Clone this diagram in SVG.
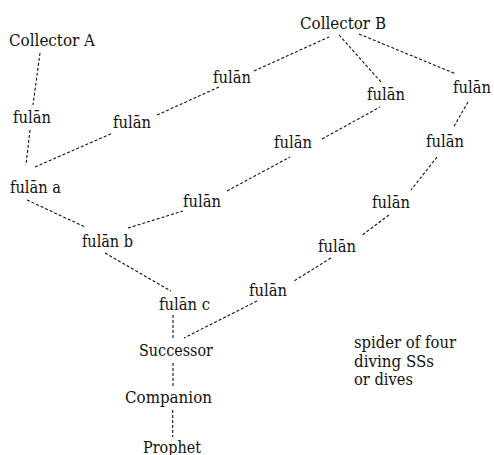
<svg xmlns="http://www.w3.org/2000/svg" width="494" height="455" viewBox="0 0 494 455">
  <style>
    .lbl { font-family: "DejaVu Serif", serif; font-size: 16.5px; fill: #111; }
    .link { stroke: #111; stroke-width: 1.1; stroke-dasharray: 3 2; fill: none; }
  </style>
  <rect width="494" height="455" fill="#fff"/>

  <g id="connectors">
    <line class="link" x1="40" y1="53" x2="33" y2="105"/>
    <line class="link" x1="30" y1="130" x2="26" y2="165"/>
    <line class="link" x1="35" y1="167" x2="113" y2="133"/>
    <line class="link" x1="157" y1="115" x2="219" y2="87"/>
    <line class="link" x1="254" y1="71" x2="329" y2="37"/>
    <line class="link" x1="27" y1="200" x2="85" y2="227"/>
    <line class="link" x1="128" y1="228" x2="183" y2="211"/>
    <line class="link" x1="227" y1="191" x2="290" y2="157"/>
    <line class="link" x1="322" y1="139" x2="380" y2="107"/>
    <line class="link" x1="339" y1="35" x2="381" y2="82"/>
    <line class="link" x1="359" y1="34" x2="456" y2="74"/>
    <line class="link" x1="468" y1="102" x2="453" y2="128"/>
    <line class="link" x1="437" y1="157" x2="411" y2="190"/>
    <line class="link" x1="389" y1="215" x2="361" y2="236"/>
    <line class="link" x1="331" y1="258" x2="294" y2="281"/>
    <line class="link" x1="257" y1="301" x2="184" y2="338"/>
    <line class="link" x1="105" y1="253" x2="171" y2="291"/>
    <line class="link" x1="173" y1="315" x2="173" y2="338"/>
    <line class="link" x1="173" y1="363" x2="173" y2="386"/>
    <line class="link" x1="172.7" y1="410" x2="172.7" y2="437"/>
  </g>

  <g id="collector-a"><text class="lbl" x="9" y="46" textLength="86" lengthAdjust="spacingAndGlyphs">Collector A</text></g>
  <g id="collector-b"><text class="lbl" x="300" y="29" textLength="86" lengthAdjust="spacingAndGlyphs">Collector B</text></g>
  <g id="a1"><text class="lbl" x="13" y="123" textLength="38" lengthAdjust="spacingAndGlyphs">fulān</text></g>
  <g id="a2"><text class="lbl" x="113" y="128" textLength="38" lengthAdjust="spacingAndGlyphs">fulān</text></g>
  <g id="a3"><text class="lbl" x="213" y="83" textLength="38" lengthAdjust="spacingAndGlyphs">fulān</text></g>
  <g id="fulan-a"><text class="lbl" x="10" y="193" textLength="51" lengthAdjust="spacingAndGlyphs">fulān a</text></g>
  <g id="b1"><text class="lbl" x="183" y="207" textLength="38" lengthAdjust="spacingAndGlyphs">fulān</text></g>
  <g id="b2"><text class="lbl" x="274" y="148" textLength="38" lengthAdjust="spacingAndGlyphs">fulān</text></g>
  <g id="b3"><text class="lbl" x="367" y="100" textLength="38" lengthAdjust="spacingAndGlyphs">fulān</text></g>
  <g id="c1"><text class="lbl" x="453" y="93" textLength="38" lengthAdjust="spacingAndGlyphs">fulān</text></g>
  <g id="c2"><text class="lbl" x="426" y="147" textLength="38" lengthAdjust="spacingAndGlyphs">fulān</text></g>
  <g id="c3"><text class="lbl" x="372" y="208" textLength="38" lengthAdjust="spacingAndGlyphs">fulān</text></g>
  <g id="c4"><text class="lbl" x="318" y="252" textLength="38" lengthAdjust="spacingAndGlyphs">fulān</text></g>
  <g id="c5"><text class="lbl" x="249" y="296" textLength="38" lengthAdjust="spacingAndGlyphs">fulān</text></g>
  <g id="fulan-b"><text class="lbl" x="82" y="247" textLength="51" lengthAdjust="spacingAndGlyphs">fulān b</text></g>
  <g id="fulan-c"><text class="lbl" x="159" y="310" textLength="51" lengthAdjust="spacingAndGlyphs">fulān c</text></g>
  <g id="successor"><text class="lbl" x="139" y="356" textLength="74" lengthAdjust="spacingAndGlyphs">Successor</text></g>
  <g id="companion"><text class="lbl" x="125" y="403" textLength="87" lengthAdjust="spacingAndGlyphs">Companion</text></g>
  <g id="prophet"><text class="lbl" x="143" y="453" textLength="58" lengthAdjust="spacingAndGlyphs">Prophet</text></g>

  <g id="note">
    <text class="lbl" x="354" y="348" textLength="102" lengthAdjust="spacingAndGlyphs">spider of four</text>
    <text class="lbl" x="354" y="367" textLength="80" lengthAdjust="spacingAndGlyphs">diving SSs</text>
    <text class="lbl" x="354" y="385" textLength="59" lengthAdjust="spacingAndGlyphs">or dives</text>
  </g>
</svg>
